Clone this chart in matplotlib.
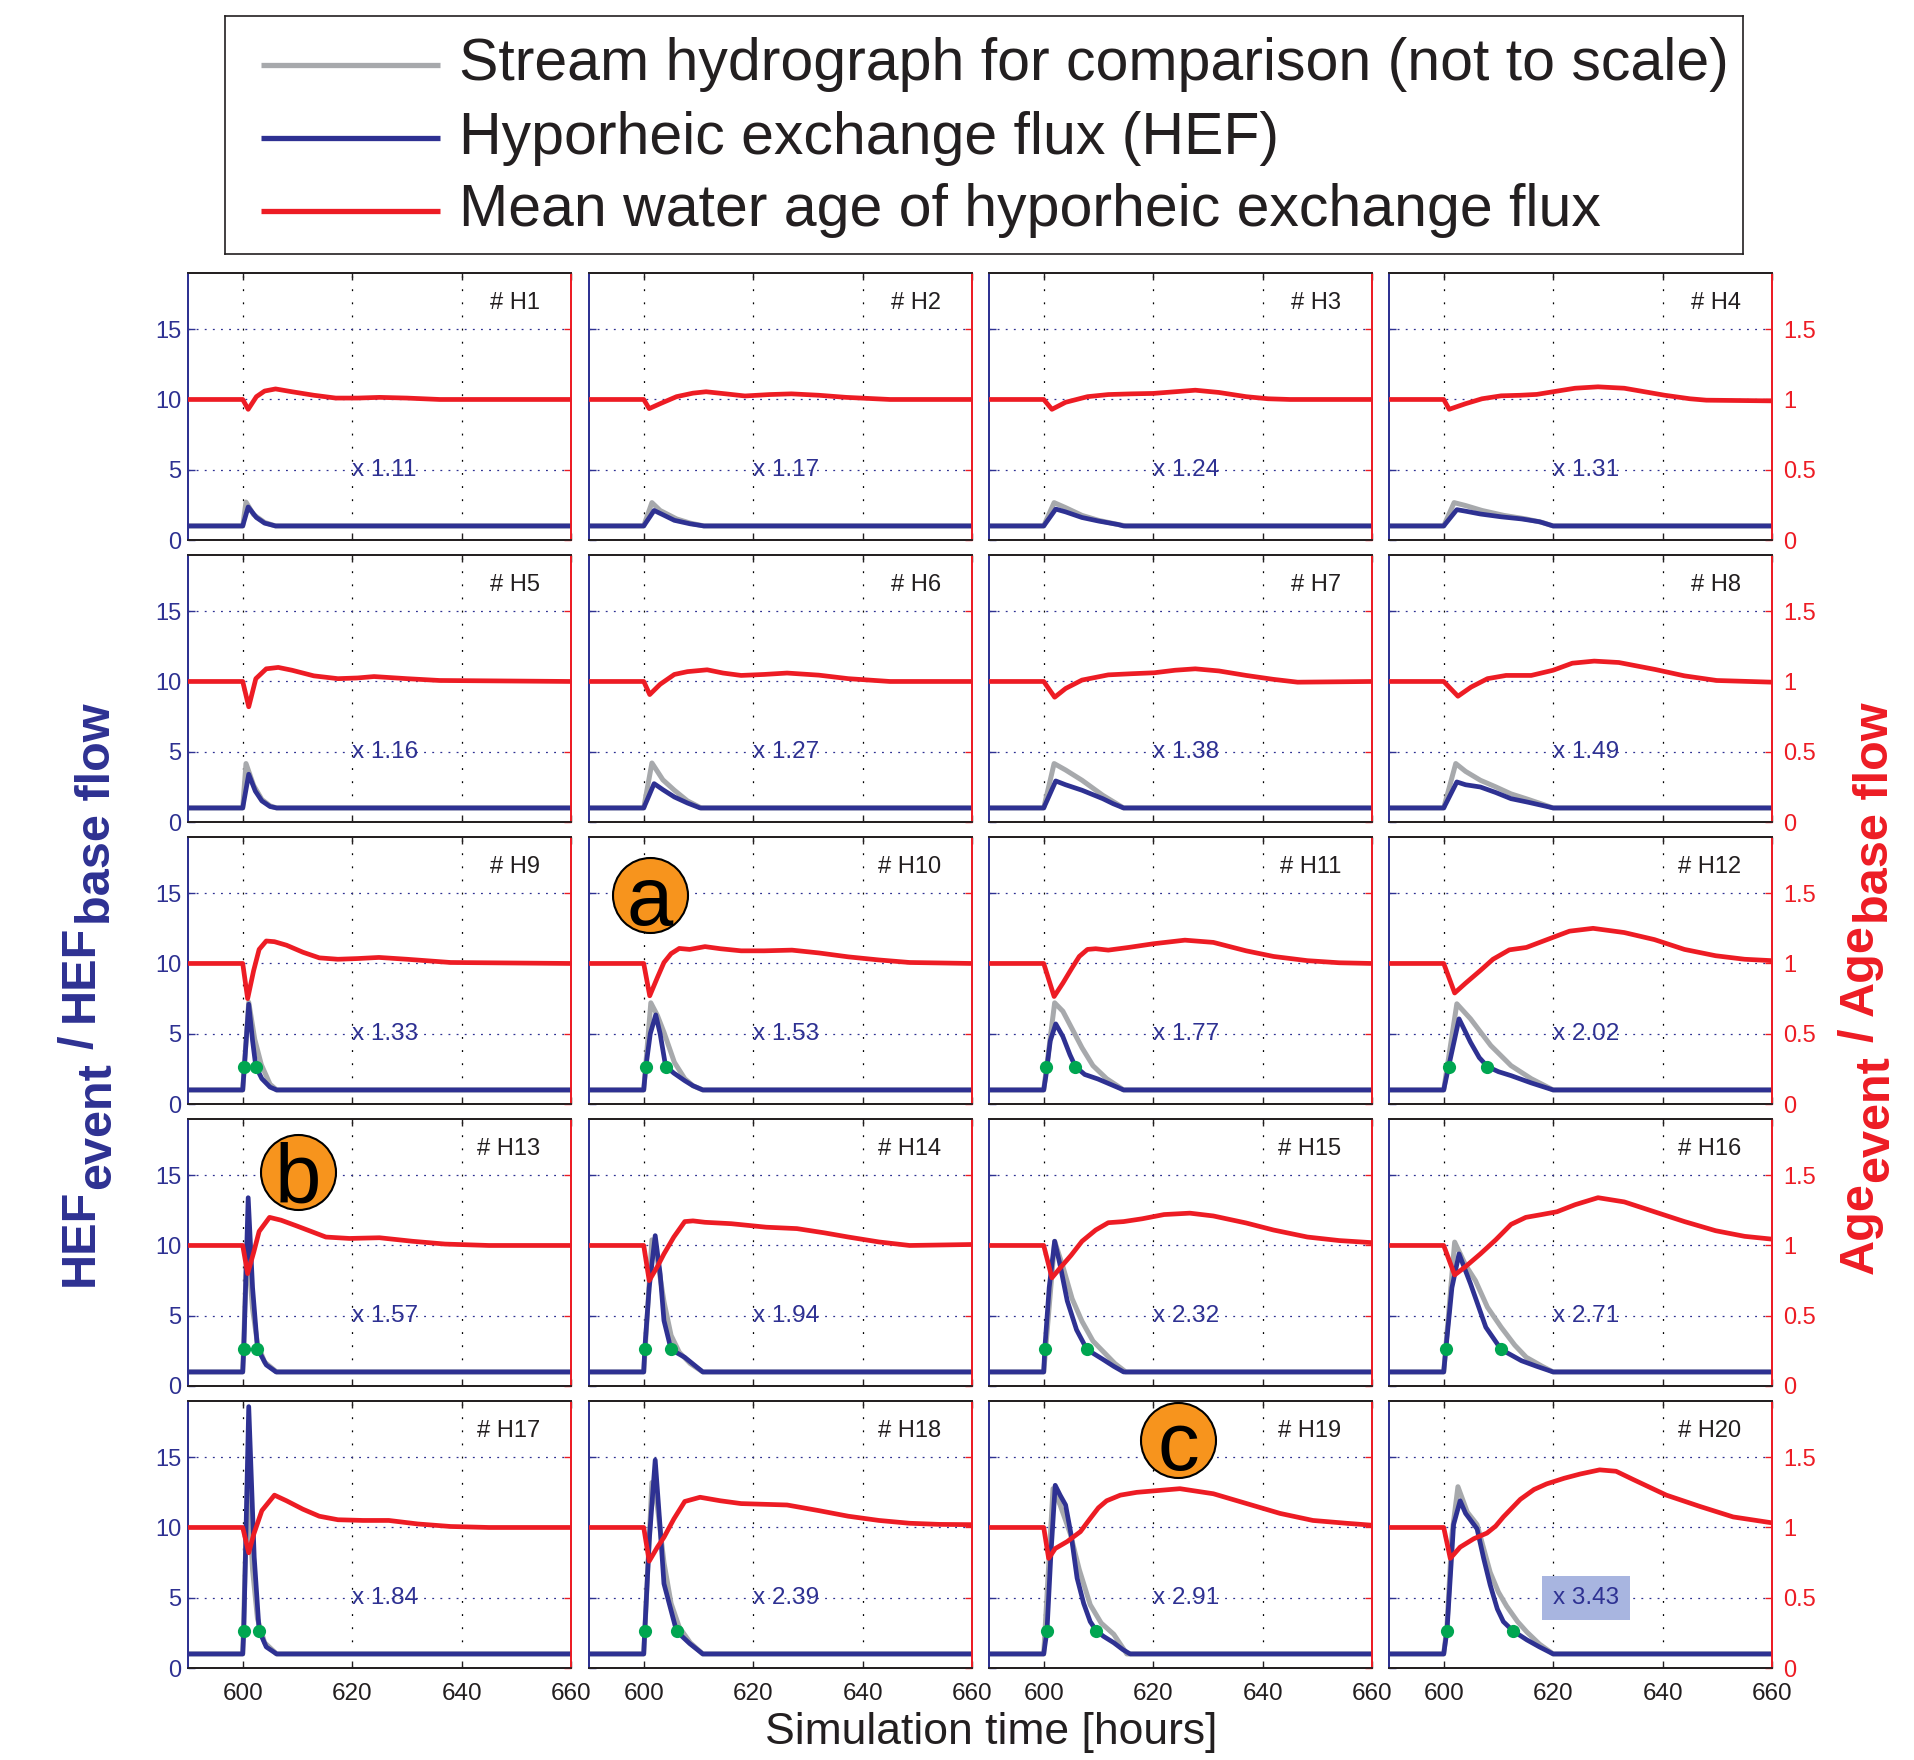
import matplotlib
matplotlib.use("Agg")
import matplotlib.pyplot as plt

plt.rcParams["font.family"] = ["Liberation Sans", "DejaVu Sans"]
plt.rcParams["lines.solid_joinstyle"] = "round"
plt.rcParams["lines.solid_capstyle"] = "round"

BLUE = "#2e3192"
RED = "#ed1c24"
GRAY = "#a7a9ac"
GREEN = "#00a651"
ORANGE = "#f7941d"
INK = "#231f20"

# ---------------- data ----------------
panel_names = ["# H%d" % k for k in range(1, 21)]
scale_factors = [1.11, 1.17, 1.24, 1.31,
                 1.16, 1.27, 1.38, 1.49,
                 1.33, 1.53, 1.77, 2.02,
                 1.57, 1.94, 2.32, 2.71,
                 1.84, 2.39, 2.91, 3.43]

# stream hydrograph (not to scale), left axis
hydro_t = [
    [590, 600, 600.6, 602, 604, 606, 660],
    [590, 600, 601.5, 603, 606, 608.5, 611, 660],
    [590, 600, 601.9, 604, 607, 610, 613, 615, 660],
    [590, 600, 601.9, 604, 607, 611, 615, 618, 620, 660],
    [590, 600, 600.6, 602, 603.5, 605, 606.2, 660],
    [590, 600, 601.5, 603.5, 605.6, 608, 610.5, 660],
    [590, 600, 601.9, 604, 607, 610.8, 614.6, 660],
    [590, 600, 602.2, 604, 606.7, 609.5, 612.3, 615.5, 618.9, 620, 660],
    [590, 600, 601.1, 602.2, 603.4, 605, 606.2, 660],
    [590, 600, 601.3, 602.5, 603.7, 605.6, 607.5, 609, 610.8, 660],
    [590, 600, 602, 603.5, 605.2, 607, 609, 611.5, 614.6, 660],
    [590, 600, 602.4, 604.9, 608.6, 612.3, 616, 620, 660],
    [590, 600, 600.8, 601.8, 602.7, 604, 606.2, 660],
    [590, 600, 601.5, 602.5, 603.7, 605, 606.5, 608.5, 610.8, 660],
    [590, 600, 602, 603.5, 605.2, 607, 609, 611, 613, 615, 660],
    [590, 600, 602, 604, 605.8, 608, 610.5, 613, 615.1, 618, 620, 660],
    [590, 600, 600.9, 601.8, 602.7, 604, 606.2, 660],
    [590, 600, 601.5, 602.5, 603.7, 605, 606.5, 608.5, 610.8, 660],
    [590, 600, 601.7, 603, 604.9, 606.5, 608.5, 610.5, 612.8, 615.2, 660],
    [590, 600, 600.6, 601.5, 602.6, 604.3, 606.1, 607.3, 608.5, 610, 611.5, 613.5, 615.2, 617.5, 620, 660],
]
hydro_q = [
    [1, 1, 2.7, 1.8, 1.25, 1, 1],
    [1, 1, 2.66, 2.1, 1.5, 1.2, 1, 1],
    [1, 1, 2.66, 2.3, 1.75, 1.4, 1.15, 1, 1],
    [1, 1, 2.66, 2.45, 2.1, 1.75, 1.5, 1.25, 1, 1],
    [1, 1, 4.16, 2.6, 1.6, 1.15, 1, 1],
    [1, 1, 4.2, 3.0, 2.26, 1.5, 1, 1],
    [1, 1, 4.16, 3.7, 2.97, 1.9, 1, 1],
    [1, 1, 4.16, 3.6, 2.97, 2.5, 2.0, 1.6, 1.15, 1, 1],
    [1, 1, 7.24, 4.6, 2.8, 1.4, 1, 1],
    [1, 1, 7.2, 6.3, 5.1, 2.97, 1.8, 1.3, 1, 1],
    [1, 1, 7.2, 6.6, 5.34, 4.0, 2.73, 1.8, 1, 1],
    [1, 1, 7.13, 6.06, 4.16, 2.73, 1.8, 1, 1],
    [1, 1, 10.3, 5.5, 3.0, 1.7, 1, 1],
    [1, 1, 10.4, 9.0, 6.0, 3.6, 2.4, 1.6, 1, 1],
    [1, 1, 10.3, 8.5, 6.2, 4.6, 3.2, 2.4, 1.6, 1, 1],
    [1, 1, 10.24, 8.6, 7.5, 5.6, 4.18, 2.9, 2.04, 1.4, 1, 1],
    [1, 1, 13.4, 7.0, 3.5, 1.8, 1, 1],
    [1, 1, 13.2, 11.5, 7.5, 4.6, 2.9, 1.8, 1, 1],
    [1, 1, 12.76, 11.6, 9.5, 7.0, 4.5, 3.2, 2.4, 1, 1],
    [1, 1, 3.0, 9.5, 12.9, 11.1, 10.2, 8.5, 6.8, 5.4, 4.4, 3.3, 2.56, 1.7, 1, 1],
]

# hyporheic exchange flux HEF_event / HEF_base flow, left axis
hef_t = [
    [590, 600, 601, 602.5, 604, 606, 660],
    [590, 600, 601.9, 603.5, 605.6, 608.5, 611, 660],
    [590, 600, 602.2, 604, 607, 610, 613.6, 614.6, 660],
    [590, 600, 602.4, 604, 606.7, 610.5, 614.2, 617.5, 620, 660],
    [590, 600, 601.1, 602.3, 603.5, 605, 606.2, 660],
    [590, 600, 601.9, 603.5, 605.6, 608, 610.3, 660],
    [590, 600, 602.2, 604, 607, 610.8, 612.7, 614.6, 660],
    [590, 600, 602.4, 604, 606.7, 609.5, 612.3, 615.5, 618.9, 620, 660],
    [590, 600, 601.1, 601.8, 602.4, 603.5, 605, 606.2, 660],
    [590, 600, 600.4, 601.2, 602.2, 603, 604, 605.5, 607.5, 609, 610.8, 660],
    [590, 600, 600.4, 601.2, 602.2, 603.5, 604.8, 605.8, 607.5, 609.9, 612.5, 614.6, 660],
    [590, 600, 600.9, 602.8, 604.9, 606.5, 608, 610, 612.3, 616, 620, 660],
    [590, 600, 600.2, 601, 601.8, 602.7, 604.3, 606.1, 660],
    [590, 600, 600.2, 601, 602.1, 603, 603.7, 605, 607.5, 610.8, 660],
    [590, 600, 600.2, 601, 602, 603, 604.3, 606, 607.9, 610.8, 612.8, 614.6, 660],
    [590, 600, 600.4, 601.5, 602.8, 604.9, 607.7, 610.5, 614.2, 617, 620, 660],
    [590, 600, 600.2, 601.1, 602.1, 603, 604.3, 606.2, 660],
    [590, 600, 600.2, 601, 602.1, 603, 603.7, 606, 608.4, 610.8, 660],
    [590, 600, 600.6, 601.3, 602.1, 603, 604, 605, 606.1, 607.3, 608.5, 609.6, 610.9, 612.8, 614.5, 615.8, 660],
    [590, 600, 600.6, 601.8, 603, 604, 606.1, 607.3, 608.5, 609.8, 610.9, 612.6, 615.2, 617.5, 620, 660],
]
hef_q = [
    [1, 1, 2.35, 1.6, 1.2, 1, 1],
    [1, 1, 2.1, 1.8, 1.4, 1.15, 1, 1],
    [1, 1, 2.2, 2.0, 1.6, 1.35, 1.1, 1, 1],
    [1, 1, 2.16, 2.05, 1.85, 1.65, 1.5, 1.3, 1, 1],
    [1, 1, 3.4, 2.2, 1.5, 1.1, 1, 1],
    [1, 1, 2.73, 2.3, 1.78, 1.35, 1, 1],
    [1, 1, 2.92, 2.65, 2.26, 1.66, 1.3, 1, 1],
    [1, 1, 2.85, 2.65, 2.49, 2.1, 1.66, 1.4, 1.1, 1, 1],
    [1, 1, 7.1, 4.5, 2.66, 1.8, 1.2, 1, 1],
    [1, 1, 2.66, 5.0, 6.34, 5.0, 2.7, 2.2, 1.66, 1.3, 1, 1],
    [1, 1, 2.0, 4.5, 5.7, 4.8, 3.5, 2.66, 2.1, 1.78, 1.35, 1, 1],
    [1, 1, 2.66, 6.06, 4.39, 3.3, 2.66, 2.3, 2.02, 1.5, 1, 1],
    [1, 1, 2.66, 13.4, 7.0, 2.66, 1.5, 1, 1],
    [1, 1, 2.66, 7.0, 10.7, 8.0, 4.66, 2.6, 2.04, 1, 1],
    [1, 1, 2.66, 7.0, 10.3, 8.6, 6.06, 4.0, 2.6, 1.9, 1.4, 1, 1],
    [1, 1, 2.66, 7.0, 9.4, 7.27, 4.18, 2.6, 1.8, 1.4, 1, 1],
    [1, 1, 2.66, 18.6, 7.9, 2.66, 1.5, 1, 1],
    [1, 1, 2.66, 9.0, 14.8, 10.0, 6.0, 2.62, 1.74, 1, 1],
    [1, 1, 2.66, 8.0, 13.0, 12.3, 11.6, 9.5, 6.4, 4.6, 3.3, 2.66, 2.26, 1.8, 1.3, 1.0, 1.0],
    [1, 1, 2.66, 10.2, 11.9, 11.0, 9.9, 7.8, 5.9, 4.2, 3.3, 2.66, 2.0, 1.5, 1, 1],
]

# mean water age Age_event / Age_base flow, right axis
age_t = [
    [590, 600, 601, 602.5, 604, 606, 609, 613, 617, 621, 625, 630, 636, 640, 660],
    [590, 600, 601, 603, 606, 609, 611.4, 615, 618.5, 623, 627, 632, 637, 645, 660],
    [590, 600, 601.5, 604, 608, 611.8, 616, 620, 624, 627.7, 632, 637, 641, 645, 660],
    [590, 600, 601, 604, 607, 610.5, 614, 617, 620, 624, 628.2, 633, 640.4, 645, 648, 660],
    [590, 600, 601.1, 602.4, 604.3, 606.5, 609, 613, 617.4, 621, 624, 630, 636, 660],
    [590, 600, 601.1, 603, 605.6, 608, 611.6, 614.5, 617.8, 622, 626.2, 632, 637.4, 645, 660],
    [590, 600, 602, 604, 607, 611.8, 616, 620.2, 624, 627.7, 632, 637, 642, 646.4, 660],
    [590, 600, 602.6, 605, 608, 611.4, 616, 620, 623.5, 627.5, 632, 638.7, 644, 649.9, 660],
    [590, 600, 600.9, 602, 603, 604.3, 605.8, 608, 611, 614, 617.4, 621, 624.9, 630, 638, 660],
    [590, 600, 601.1, 602.5, 603.7, 605, 606.5, 608.4, 611.2, 614, 617.8, 622, 627.1, 632, 637.4, 643, 648.6, 660],
    [590, 600, 601.9, 603.5, 605.2, 606.5, 608, 609.5, 611.8, 615.5, 620, 625.8, 631, 637, 642, 648.2, 654, 660],
    [590, 600, 602, 604, 606.7, 609, 612, 615.1, 618.9, 623, 627.3, 633, 638.5, 644, 649.7, 655, 660],
    [590, 600, 600.9, 602, 603, 604.9, 607, 609.8, 612.5, 615.2, 619.5, 625, 631, 637, 645, 660],
    [590, 600, 601, 602.5, 603.7, 605.5, 607.5, 609, 611.2, 616, 622.4, 628, 633, 637.4, 643, 648.6, 660],
    [590, 600, 601.5, 603, 605, 607, 609.5, 611.8, 614.6, 618, 622, 626.7, 631, 637, 642, 648.2, 654, 660],
    [590, 600, 602, 604, 606.7, 609.5, 612.3, 615, 617.9, 620.7, 624, 628.2, 633, 638.5, 644, 649.7, 655, 660],
    [590, 600, 601.1, 602, 603.5, 605.8, 608, 611, 614, 617.4, 622, 626.7, 632, 638, 645, 660],
    [590, 600, 601, 602.5, 603.7, 605.5, 607.5, 610.3, 614, 617.8, 622, 626.2, 632, 637.4, 643, 648.6, 654, 660],
    [590, 600, 600.9, 602.1, 604.3, 606.7, 608.5, 610, 611.5, 614, 617, 620, 624.9, 631, 637.1, 643.2, 649.2, 655.3, 660],
    [590, 600, 601.2, 603, 605.5, 607.9, 609.5, 610.9, 614, 616.5, 618.8, 622, 624.9, 628.5, 631.5, 634.7, 640.7, 646.8, 652.9, 660],
]
age_v = [
    [1, 1, 0.93, 1.02, 1.06, 1.075, 1.055, 1.03, 1.01, 1.01, 1.015, 1.01, 1.0, 1.0, 1.0],
    [1, 1, 0.935, 0.97, 1.02, 1.045, 1.055, 1.04, 1.025, 1.035, 1.04, 1.03, 1.015, 1.0, 1.0],
    [1, 1, 0.93, 0.98, 1.02, 1.035, 1.04, 1.043, 1.055, 1.066, 1.05, 1.02, 1.005, 1.0, 1.0],
    [1, 1, 0.93, 0.97, 1.005, 1.026, 1.03, 1.036, 1.055, 1.08, 1.09, 1.08, 1.03, 1.005, 0.995, 0.99],
    [1, 1, 0.82, 1.02, 1.09, 1.10, 1.08, 1.04, 1.02, 1.025, 1.035, 1.02, 1.007, 1.0],
    [1, 1, 0.907, 0.98, 1.05, 1.07, 1.083, 1.06, 1.043, 1.05, 1.06, 1.045, 1.02, 1.0, 1.0],
    [1, 1, 0.888, 0.95, 1.01, 1.047, 1.055, 1.062, 1.08, 1.09, 1.075, 1.043, 1.015, 0.995, 1.0],
    [1, 1, 0.895, 0.96, 1.02, 1.043, 1.043, 1.08, 1.13, 1.145, 1.135, 1.085, 1.04, 1.007, 0.995],
    [1, 1, 0.75, 0.95, 1.1, 1.16, 1.155, 1.13, 1.08, 1.04, 1.03, 1.035, 1.043, 1.03, 1.007, 1.0],
    [1, 1, 0.77, 0.9, 1.007, 1.07, 1.107, 1.10, 1.12, 1.105, 1.09, 1.09, 1.095, 1.075, 1.047, 1.025, 1.007, 1.0],
    [1, 1, 0.765, 0.86, 0.97, 1.05, 1.10, 1.105, 1.095, 1.114, 1.14, 1.166, 1.15, 1.09, 1.05, 1.02, 1.005, 1.0],
    [1, 1, 0.79, 0.86, 0.95, 1.03, 1.097, 1.114, 1.17, 1.23, 1.25, 1.22, 1.17, 1.1, 1.055, 1.03, 1.02],
    [1, 1, 0.8, 0.95, 1.1, 1.2, 1.18, 1.14, 1.1, 1.06, 1.05, 1.055, 1.03, 1.01, 1.0, 1.0],
    [1, 1, 0.75, 0.85, 0.94, 1.06, 1.17, 1.175, 1.165, 1.155, 1.13, 1.12, 1.09, 1.06, 1.025, 1.0, 1.007],
    [1, 1, 0.77, 0.84, 0.93, 1.03, 1.11, 1.162, 1.17, 1.19, 1.22, 1.23, 1.21, 1.16, 1.11, 1.06, 1.035, 1.02],
    [1, 1, 0.79, 0.85, 0.94, 1.04, 1.15, 1.2, 1.22, 1.24, 1.29, 1.34, 1.31, 1.24, 1.17, 1.105, 1.065, 1.045],
    [1, 1, 0.82, 0.95, 1.12, 1.23, 1.19, 1.13, 1.08, 1.055, 1.05, 1.05, 1.025, 1.007, 1.0, 1.0],
    [1, 1, 0.76, 0.86, 0.93, 1.06, 1.185, 1.215, 1.19, 1.17, 1.165, 1.16, 1.12, 1.08, 1.05, 1.03, 1.022, 1.02],
    [1, 1, 0.78, 0.85, 0.9, 0.97, 1.064, 1.14, 1.19, 1.23, 1.25, 1.26, 1.276, 1.24, 1.17, 1.1, 1.05, 1.03, 1.016],
    [1, 1, 0.78, 0.86, 0.92, 0.96, 1.01, 1.075, 1.2, 1.27, 1.31, 1.35, 1.38, 1.41, 1.40, 1.34, 1.23, 1.15, 1.075, 1.033],
]

# green markers on rising / falling limb of HEF
dot_level = 2.66
dot_t = [
    [], [], [], [],
    [], [], [], [],
    [600.2, 602.4], [600.4, 604.0], [600.4, 605.8], [600.9, 608.0],
    [600.2, 602.7], [600.2, 605.0], [600.2, 607.9], [600.4, 610.5],
    [600.2, 603.0], [600.2, 606.0], [600.6, 609.6], [600.6, 612.6],
]

# orange callouts: panel index, letter, position (axes fraction)
callouts = [(9, "a", 0.159, 0.783), (12, "b", 0.287, 0.80), (18, "c", 0.493, 0.854)]
highlight_panel = 19

legend_labels = ["Stream hydrograph for comparison (not to scale)",
                 "Hyporheic exchange flux (HEF)",
                 "Mean water age of hyporheic exchange flux"]
legend_colors = [GRAY, BLUE, RED]

# ---------------- layout (pixels of the 1915x1760 canvas) ----------------
W, H = 1915, 1760
COL_LEFT = [188, 589, 989, 1389]
ROW_TOP = [273, 555, 837, 1119, 1401]
PW, PH = 383, 267

fig = plt.figure(figsize=(W / 100, H / 100), dpi=100)


def style_spines(a):
    a.spines["left"].set_color(BLUE)
    a.spines["right"].set_color(RED)
    a.spines["top"].set_color(INK)
    a.spines["bottom"].set_color(INK)
    for s in a.spines.values():
        s.set_linewidth(1.3)


for i in range(20):
    r, c = divmod(i, 4)
    ax = fig.add_axes([COL_LEFT[c] / W, 1 - (ROW_TOP[r] + PH) / H, PW / W, PH / H])
    ax.set_xlim(590, 660)
    ax.set_ylim(0, 19)
    ax.set_xticks([600, 620, 640, 660])
    ax.set_yticks([0, 5, 10, 15])
    ax.grid(axis="x", color="k", linestyle=(0, (1.5, 9)), linewidth=0.9)
    ax.grid(axis="y", color=BLUE, linestyle=(0, (1.5, 5)), linewidth=0.9)
    ax.set_axisbelow(True)

    ax.plot(hydro_t[i], hydro_q[i], color=GRAY, lw=3.6, zorder=2)
    ax.plot(hef_t[i], hef_q[i], color=BLUE, lw=3.4, zorder=3)
    if dot_t[i]:
        ax.plot(dot_t[i], [dot_level] * len(dot_t[i]), "o", color=GREEN,
                ms=9.5, mec="none", zorder=4)

    bbox = None
    if i == highlight_panel:
        bbox = dict(boxstyle="square,pad=0.45", fc="#a8b5e0", ec="none")
    ax.text(620, 5, "x %.2f" % scale_factors[i], color=BLUE, fontsize=17.5,
            ha="left", va="center", bbox=bbox, zorder=5)
    ax.text(0.92, 0.888, panel_names[i], color=INK, fontsize=17,
            ha="right", va="center", transform=ax.transAxes)

    ax.tick_params(axis="x", direction="in", length=5, width=1, color=INK,
                   top=True, labelsize=17.5, pad=11, labelcolor=INK,
                   labelbottom=(r == 4))
    ax.tick_params(axis="y", direction="in", length=5, width=1, colors=BLUE,
                   labelsize=17, pad=5, labelleft=(c == 0))

    ax2 = ax.twinx()
    ax2.set_ylim(0, 1.9)
    ax2.set_yticks([0, 0.5, 1, 1.5])
    ax2.set_yticklabels(["0", "0.5", "1", "1.5"])
    ax2.plot(age_t[i], age_v[i], color=RED, lw=3.4, zorder=3)
    ax2.tick_params(axis="y", direction="in", length=5, width=1, colors=RED,
                    labelsize=17, pad=8, labelright=(c == 3))
    style_spines(ax)
    style_spines(ax2)

    for k, letter, cx, cy in callouts:
        if k == i:
            ax2.plot([cx], [cy], "o", ms=54, mfc=ORANGE, mec="k", mew=1.5,
                     transform=ax.transAxes, zorder=10, clip_on=False)
            ax2.text(cx, cy, letter, fontsize=60, color="k", ha="center",
                     va="center_baseline", transform=ax.transAxes, zorder=11)

# ---------------- legend ----------------
lx0, ly0, lx1, ly1 = 225, 16, 1743, 254
leg = fig.add_axes([lx0 / W, 1 - ly1 / H, (lx1 - lx0) / W, (ly1 - ly0) / H])
leg.set_xlim(lx0, lx1)
leg.set_ylim(ly1, ly0)
leg.set_xticks([])
leg.set_yticks([])
for s in leg.spines.values():
    s.set_linewidth(1.2)
    s.set_color(INK)
for row, (lab, col) in enumerate(zip(legend_labels, legend_colors)):
    yy = 65 + 73 * row
    leg.plot([261, 440], [yy, yy], color=col, lw=3.8, solid_capstyle="butt")
    leg.text(459, yy, lab, fontsize=42.5, color=INK, ha="left", va="center")

# ---------------- axis titles ----------------
fig.text(991 / W, 1 - 1732 / H, "Simulation time [hours]", fontsize=32,
         color=INK, ha="center", va="center")


def stacked_label(x_px, y_px, pieces, color, size):
    renderer = fig.canvas.get_renderer()
    y = H - y_px
    for txt, shift, gap in pieces:
        t = fig.text((x_px + shift) / W, y / H, txt, rotation=90, ha="center",
                     va="bottom", color=color, fontsize=size, fontweight="bold")
        bb = t.get_window_extent(renderer)
        y = bb.y1 + gap


stacked_label(80, 1286, [("HEF", 0, 0), ("event", 18, 13), ("/", 0, 13),
                         ("HEF", 0, 0), ("base flow", 18, 0)], BLUE, 35)
stacked_label(1860, 1274, [("Age", 0, 0), ("event", 16, 13), ("/", 0, 13),
                           ("Age", 0, 0), ("base flow", 16, 0)], RED, 35)

fig.savefig("out.png", dpi=100)
